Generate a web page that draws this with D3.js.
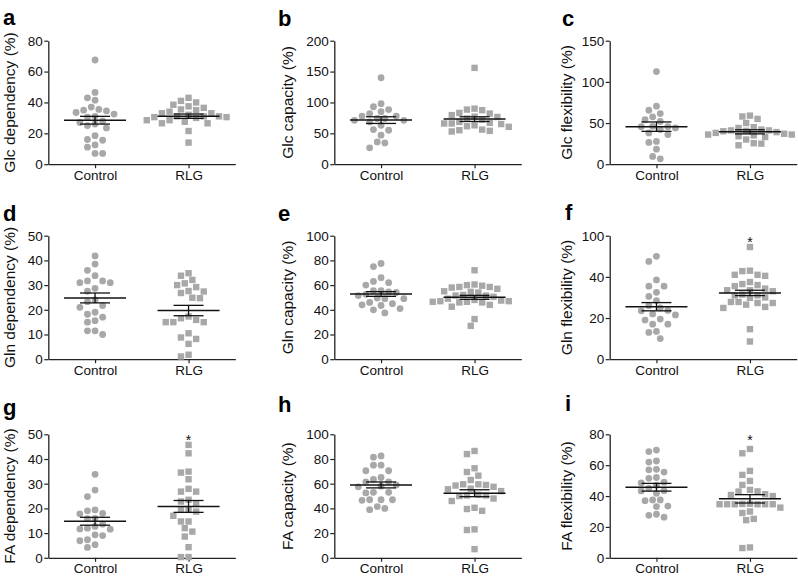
<!DOCTYPE html>
<html>
<head>
<meta charset="utf-8">
<script src="https://cdn.jsdelivr.net/npm/d3@7"></script>
<style>
  body { margin: 0; background: #fff; }
  text { font-family: "Liberation Sans", Arial, Helvetica, sans-serif; }
</style>
</head>
<body>
<script>
// Categories and panel texts
const groups = ["Control", "RLG"];
const panelLetters = ["a", "b", "c", "d", "e", "f", "g", "h", "i"];
const yTitles = [
  "Glc dependency (%)", "Glc capacity (%)", "Glc flexibility (%)",
  "Gln dependency (%)", "Gln capacity (%)", "Gln flexibility (%)",
  "FA dependency (%)", "FA capacity (%)", "FA flexibility (%)"
];
const yTicks = [
  [0, 20, 40, 60, 80], [0, 50, 100, 150, 200], [0, 50, 100, 150],
  [0, 10, 20, 30, 40, 50], [0, 20, 40, 60, 80, 100], [0, 20, 40, 60],
  [0, 10, 20, 30, 40, 50], [0, 20, 40, 60, 80, 100], [0, 20, 40, 60, 80]
];
// panel f prints "100" on its top tick
const yTickLabels = [
  ["0", "20", "40", "60", "80"], ["0", "50", "100", "150", "200"], ["0", "50", "100", "150"],
  ["0", "10", "20", "30", "40", "50"], ["0", "20", "40", "60", "80", "100"], ["0", "20", "40", "100"],
  ["0", "10", "20", "30", "40", "50"], ["0", "20", "40", "60", "80", "100"], ["0", "20", "40", "60", "80"]
];

// Individual values
const glcDepControl = [67.5, 46.5, 43, 41.5, 37, 35.5, 35, 34.5, 33.5, 32.5, 31, 30.5, 28, 27, 26, 25, 23.5, 18.5, 16, 15.5, 12.5, 11, 7, 7];
const glcDepRLG = [43, 41, 40, 38.5, 37.5, 36.5, 35.5, 35, 34, 33, 33, 32, 31, 31, 31, 30.5, 30.5, 30, 28.5, 28.5, 27.5, 26.5, 26.5, 21.5, 14];
const glcCapControl = [140, 98, 93, 88.5, 85, 82, 78, 78, 74, 74, 71, 71, 68.5, 63, 56, 55, 47, 36, 34.5, 26.5];
const glcCapRLG = [156, 90, 88.5, 87.5, 83, 82, 79.5, 77, 76.5, 74, 72, 68.5, 67, 66, 66, 65, 63, 61.5, 60.5, 56, 55, 54, 53];
const glcFlexControl = [112.5, 70.5, 65.5, 61.5, 57.5, 54, 52, 46, 45.5, 45.5, 44, 42, 38, 36, 27.7, 26.5, 18.3, 9.4, 6.5];
const glcFlexRLG = [59, 58, 55, 50, 45, 44, 42, 41, 41, 40.5, 40, 39, 38, 37, 36, 36, 35, 34, 33, 30, 25.5, 25, 23];
const glnDepControl = [41.8, 38.5, 36, 33.8, 31.7, 31.7, 31, 31, 28.7, 27.5, 24, 23.3, 21.7, 21, 19, 18.2, 17, 15.6, 15, 11.5, 11.5, 10];
const glnDepRLG = [34.8, 33.8, 32.1, 30.7, 30, 29.2, 27.6, 27.4, 26.8, 24.9, 24.7, 17.3, 16.6, 15.9, 15, 15, 15, 10.5, 8.8, 8.2, 6.2, 1.8, 1.1];
const glnCapControl = [77.5, 75, 66, 63, 62, 60, 55.5, 55.5, 54.5, 54, 52.5, 51.5, 49.5, 49, 49, 46, 45, 44, 43.5, 41, 40, 37.5];
const glnCapRLG = [72, 60.5, 60, 59.5, 58.5, 58.5, 58, 57, 55, 54.5, 54, 52, 51.5, 51.5, 50.5, 49, 48, 47.5, 47, 47, 46.5, 46.5, 46, 46, 44, 42.5, 32.5, 27];
const glnFlexControl = [50, 47.5, 38.5, 35.5, 35.5, 32.5, 30.5, 28.5, 26, 24.9, 23.7, 23.5, 22, 21.5, 19.5, 19, 17, 17, 13.5, 13, 10];
const glnFlexRLG = [54.5, 43, 42.8, 41, 41, 40.5, 37.5, 36.5, 36, 35.5, 34.3, 33.5, 33.5, 33, 31.4, 31, 31, 30, 29.8, 27.8, 27.8, 27.3, 27.3, 26.5, 25.4, 24.9, 14.6, 8.6];
const faDepControl = [33.8, 27.4, 24.8, 19.4, 19, 18, 17.8, 16, 15.8, 13.6, 12.7, 12, 11.6, 11.7, 9.3, 9, 7.3, 6.9, 5.3, 4.2];
const faDepRLG = [45.7, 42.3, 34.9, 34.5, 31.8, 27.9, 26.8, 26.8, 23.5, 22.8, 22, 19.4, 19.4, 18.7, 17, 14.7, 14.7, 12, 10.6, 8.6, 4.3, 0.3, 0.3];
const faCapControl = [82.5, 81.5, 75, 75, 70.5, 70.5, 65, 63.5, 61.5, 61.5, 59, 58, 57.5, 53, 53, 52.5, 47, 47, 47, 46.5, 41.5, 40, 39];
const faCapRLG = [86.5, 84, 72.5, 69.5, 66.5, 63, 59.5, 59.5, 59, 58.5, 57.5, 56, 55.5, 54, 51, 50.5, 50.5, 50, 48, 46, 40.5, 39.5, 38, 23, 22.5, 7];
const faFlexControl = [69.8, 68.8, 62.7, 62, 57.3, 57, 55.5, 52, 51.5, 49, 48.5, 47, 45, 43.5, 43.3, 41.8, 37.5, 37.5, 37, 33.5, 33.2, 28.2, 27.5, 26.3];
const faFlexRLG = [70.5, 67.7, 56.3, 53.7, 49.8, 47.2, 44, 43, 42.9, 41.2, 40.7, 40, 35, 34.9, 34.7, 34.7, 34.7, 34.7, 34.7, 34.7, 32.5, 30, 29, 25.2, 24.4, 6.7, 6.3];

const controlValues = [glcDepControl, glcCapControl, glcFlexControl, glnDepControl, glnCapControl, glnFlexControl, faDepControl, faCapControl, faFlexControl];
const rlgValues = [glcDepRLG, glcCapRLG, glcFlexRLG, glnDepRLG, glnCapRLG, glnFlexRLG, faDepRLG, faCapRLG, faFlexRLG];

// Mean and SEM as drawn: [Control, RLG]
const means = [[28.5, 31.1], [71.4, 73], [45.6, 39.3], [24.8, 19.7], [52.8, 50.1], [25.5, 32.2], [14.8, 20.8], [59, 52.3], [45.7, 38.2]];
const sems = [[2.5, 1.4], [5.4, 3.8], [5.7, 2.5], [2.0, 2.1], [1.9, 1.6], [2.0, 1.3], [1.6, 2.4], [2.4, 2.8], [2.5, 2.7]];
const starred = [false, false, false, false, false, true, true, false, true];

// Layout
const width = 798, height = 578;
const colX = [48.3, 334.3, 609.7];
const rowTop = [40.7, 235.7, 434.3];
const plotW = 187, plotH = 123.5;
const letterPos = [[3, 25], [278, 26], [562, 26], [3, 221], [278, 221], [565, 220], [3, 415], [278, 412], [565, 411]];
const titleX = [9, 287, 566];
const gray = "#a8a8a8";

const svg = d3.select("body").append("svg")
  .attr("width", width)
  .attr("height", height);

// simple beeswarm: try offsets 0, -s/2, +s/2, -s, +s ... until no overlap
function swarm(vals, y, s) {
  const pts = vals.map(v => ({ v, py: y(v), dx: 0 })).sort((a, b) => a.py - b.py);
  const placed = [];
  pts.forEach(p => {
    for (let k = 0; k < 40; k++) {
      const off = k === 0 ? 0 : (k % 2 ? -1 : 1) * Math.ceil(k / 2) * s / 2;
      const hit = placed.some(q => Math.hypot(q.dx - off, q.py - p.py) < s - 0.01);
      if (!hit) { p.dx = off; break; }
    }
    placed.push(p);
  });
  return pts;
}

panelLetters.forEach((letter, i) => {
  const col = i % 3, row = Math.floor(i / 3);
  const g = svg.append("g")
    .attr("transform", `translate(${colX[col]},${rowTop[row]})`);

  const ticks = yTicks[i];
  const y = d3.scaleLinear().domain([0, ticks[ticks.length - 1]]).range([plotH, 0]);
  const x = d3.scalePoint().domain(groups).range([0, plotW]).padding(0.5);

  // axes
  const yAxis = g.append("g")
    .call(d3.axisLeft(y).tickValues(ticks).tickFormat((d, j) => yTickLabels[i][j]).tickSize(4).tickSizeOuter(0).tickPadding(1.5));
  const xAxis = g.append("g")
    .attr("transform", `translate(0,${plotH})`)
    .call(d3.axisBottom(x).tickSize(4).tickSizeOuter(0).tickPadding(2));
  [yAxis, xAxis].forEach(ax => {
    ax.select(".domain").attr("stroke", "#222").attr("stroke-width", 1.3);
    ax.selectAll(".tick line").attr("stroke", "#222").attr("stroke-width", 1.2);
    ax.selectAll("text").attr("font-size", "13.5px").attr("fill", "#111")
      .style("font-family", '"Liberation Sans", Arial, sans-serif');
  });

  // points
  [controlValues[i], rlgValues[i]].forEach((vals, gi) => {
    const cx = x(groups[gi]);
    const pts = swarm(vals, y, 7.6);
    if (gi === 0) {
      g.append("g").selectAll("circle")
        .data(pts)
        .enter()
        .append("circle")
        .attr("cx", d => cx + d.dx)
        .attr("cy", d => d.py)
        .attr("r", 3.4)
        .attr("fill", gray);
    } else {
      g.append("g").selectAll("rect")
        .data(pts)
        .enter()
        .append("rect")
        .attr("x", d => cx + d.dx - 3.2)
        .attr("y", d => d.py - 3.2)
        .attr("width", 6.4)
        .attr("height", 6.4)
        .attr("fill", gray);
    }

    // mean +/- SEM
    const m = means[i][gi], e = sems[i][gi];
    const stat = g.append("g").attr("stroke", "#111").attr("fill", "none");
    stat.append("line").attr("x1", cx - 31).attr("x2", cx + 31)
      .attr("y1", y(m)).attr("y2", y(m)).attr("stroke-width", 1.5);
    stat.append("line").attr("x1", cx).attr("x2", cx)
      .attr("y1", y(m + e)).attr("y2", y(m - e)).attr("stroke-width", 1.3);
    [m + e, m - e].forEach(v => {
      stat.append("line").attr("x1", cx - 15).attr("x2", cx + 15)
        .attr("y1", y(v)).attr("y2", y(v)).attr("stroke-width", 1.3);
    });
  });

  if (starred[i]) {
    g.append("text")
      .attr("x", x("RLG"))
      .attr("y", 11)
      .attr("text-anchor", "middle")
      .attr("font-size", "14px")
      .attr("fill", "#111")
      .text("*");
  }

  // y title
  svg.append("text")
    .attr("transform", `translate(${titleX[col]},${rowTop[row] + plotH / 2}) rotate(-90)`)
    .attr("text-anchor", "middle")
    .attr("dominant-baseline", "central")
    .attr("font-size", "15.5px")
    .attr("fill", "#111")
    .text(yTitles[i]);

  // panel letter
  svg.append("text")
    .attr("x", letterPos[i][0])
    .attr("y", letterPos[i][1])
    .attr("font-size", "22px")
    .attr("font-weight", "bold")
    .attr("fill", "#000")
    .text(letter);
});
</script>
</body>
</html>
